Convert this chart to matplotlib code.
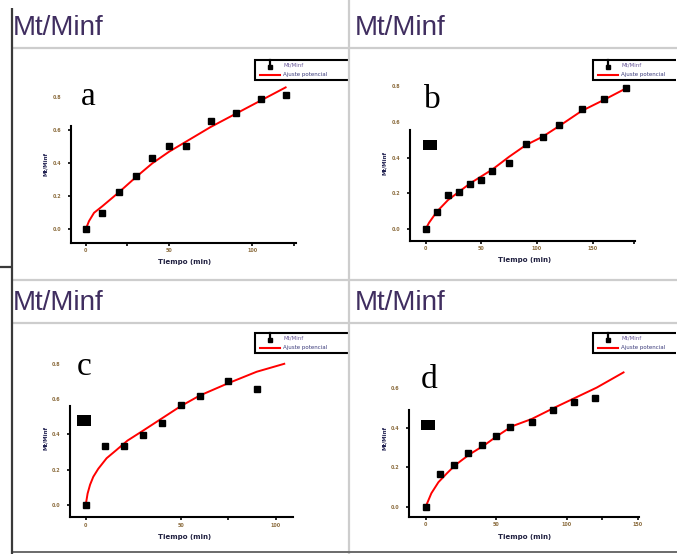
import matplotlib
matplotlib.use("Agg")
import matplotlib.pyplot as plt
from matplotlib.patches import Rectangle
from matplotlib.lines import Line2D

# ---------------- data ----------------
time_a = [0, 10, 20, 30, 40, 50, 60, 75, 90, 105, 120]
mt_a = [0, 0.10, 0.225, 0.325, 0.435, 0.505, 0.505, 0.655, 0.705, 0.79, 0.815]
fit_t_a = [0, 2, 5, 10, 20, 30, 40, 50, 60, 75, 90, 105, 120]
fit_a = [0, 0.05, 0.10, 0.14, 0.225, 0.315, 0.40, 0.47, 0.53, 0.62, 0.70, 0.78, 0.86]

time_b = [0, 10, 20, 30, 40, 50, 60, 75, 90, 105, 120, 140, 160, 180]
mt_b = [0, 0.095, 0.19, 0.205, 0.25, 0.275, 0.325, 0.37, 0.475, 0.515, 0.585, 0.67, 0.73, 0.79]
fit_t_b = [0, 3, 10, 20, 30, 40, 50, 60, 75, 90, 105, 120, 140, 160, 180]
fit_b = [0, 0.035, 0.097, 0.162, 0.209, 0.256, 0.295, 0.334, 0.405, 0.47, 0.517, 0.577, 0.661, 0.723, 0.788]

time_c = [0, 10, 20, 30, 40, 50, 60, 75, 90]
mt_c = [0, 0.335, 0.335, 0.395, 0.465, 0.565, 0.62, 0.70, 0.66]
fit_t_c = [0, 1, 2.3, 4, 6.6, 11, 16, 22, 30, 40, 50, 60, 75, 90, 104.5]
fit_c = [0, 0.065, 0.115, 0.16, 0.205, 0.265, 0.31, 0.365, 0.42, 0.49, 0.56, 0.62, 0.69, 0.755, 0.80]

time_d = [0, 10, 20, 30, 40, 50, 60, 75, 90, 105, 120]
mt_d = [0, 0.165, 0.21, 0.27, 0.31, 0.36, 0.405, 0.43, 0.49, 0.53, 0.55]
fit_t_d = [0, 4, 9, 15, 21, 31, 41, 51, 61, 75, 91, 106, 121, 140]
fit_d = [0, 0.068, 0.124, 0.169, 0.211, 0.265, 0.309, 0.36, 0.407, 0.444, 0.501, 0.552, 0.603, 0.68]

panel_letters = ["a", "b", "c", "d"]
header_text = "Mt/Minf"
x_label = "Tiempo (min)"
y_label = "Mt/Minf"
legend_labels = ["Mt/Minf", "Ajuste potencial"]
y_ticks = [0.0, 0.2, 0.4, 0.6, 0.8]
x_ticks_a = [0, 50, 100]
x_ticks_b = [0, 50, 100, 150]
x_ticks_c = [0, 50, 100]
x_ticks_d = [0, 50, 100, 150]

# ---------------- figure ----------------
W, H = 677, 554
fig = plt.figure(figsize=(W / 100, H / 100), dpi=100)
fig.patch.set_facecolor("white")

ov = fig.add_axes([0, 0, 1, 1])
ov.set_xlim(0, W)
ov.set_ylim(H, 0)
ov.axis("off")

LIGHT = "#cdcdcd"
DARK = "#3a3a3a"
# table lines
for y in (48, 280, 323):
    ov.plot([12, W], [y, y], color=LIGHT, lw=1.6, solid_capstyle="butt")
ov.plot([349, 349], [0, H], color=LIGHT, lw=1.6, solid_capstyle="butt")
ov.plot([12, W], [552, 552], color="#6a6a6a", lw=1.4, solid_capstyle="butt")
ov.plot([12, 12], [8, H], color=DARK, lw=1.6, solid_capstyle="butt")
ov.plot([0, 12], [267, 267], color=DARK, lw=1.6, solid_capstyle="butt")

# headers
for (hx, hy) in [(13, 35), (355, 35), (13, 310), (355, 310)]:
    ov.text(hx, hy, header_text, fontsize=20, family="Liberation Sans",
            color="#402e60", ha="left", va="baseline")

cells = [(12, 48, 349, 280), (349, 48, W, 280), (12, 323, 349, 552), (349, 323, W, 552)]
legend_pos = [(255, 60), (593, 60), (255, 333), (593, 333)]

for (cx0, cy0, cx1, cy1), (lx, ly) in zip(cells, legend_pos):
    clip = Rectangle((cx0, cy0), cx1 - cx0 - 1, cy1 - cy0, transform=ov.transData,
                     fill=False, visible=False)
    ov.add_patch(clip)
    box = Rectangle((lx, ly), 140, 20, facecolor="white", edgecolor="black", lw=1.5)
    ov.add_patch(box)
    box.set_clip_path(clip)
    l1 = Line2D([lx + 15, lx + 15], [ly, ly + 6], color="black", lw=1.6)
    ov.add_line(l1)
    l2 = Line2D([lx + 15], [ly + 7], marker="s", ms=3.5, color="black", ls="none")
    ov.add_line(l2)
    l3 = Line2D([lx + 5, lx + 25], [ly + 14.5, ly + 14.5], color="red", lw=1.5)
    ov.add_line(l3)
    t1 = ov.text(lx + 28, ly + 5, legend_labels[0], fontsize=4, color="#6a5a9a",
                 va="center", ha="left", clip_on=True)
    t2 = ov.text(lx + 28, ly + 14.5, legend_labels[1], fontsize=4, color="#3a3a7a",
                 va="center", ha="left", clip_on=True)
    for art in (l1, l2, l3, t1, t2):
        art.set_clip_path(clip)

# letters
for letter, (tx, ty) in zip(panel_letters, [(81, 105), (424, 108), (77, 375), (421, 388)]):
    ov.text(tx, ty, letter, fontsize=24, family="Liberation Serif", color="black",
            ha="left", va="baseline")

# black blocks
for (bx0, by0, bx1, by1) in [(423, 140, 437, 150), (77, 415, 91, 426), (421, 420, 435, 430)]:
    ov.add_patch(Rectangle((bx0, by0), bx1 - bx0, by1 - by0, facecolor="black", edgecolor="none"))

# ---------------- plot panels ----------------
panels = [
    dict(t=time_a, m=mt_a, ft=fit_t_a, f=fit_a, xt=x_ticks_a, xminor=[25, 125],
         x0=85.7, xppu=1.666, y0=229.3, yppu=165.0, left=71, right=295.5, bottom=242.5, top=80,
         spine_top=126, marked=4, ylab=(45, 164), xlab=(185, 262)),
    dict(t=time_b, m=mt_b, ft=fit_t_b, f=fit_b, xt=x_ticks_b, xminor=[187.5],
         x0=425.7, xppu=1.113, y0=229.0, yppu=178.5, left=410, right=635, bottom=240.7, top=76,
         spine_top=130, marked=3, ylab=(385, 163), xlab=(525, 260)),
    dict(t=time_c, m=mt_c, ft=fit_t_c, f=fit_c, xt=x_ticks_c, xminor=[75],
         x0=85.7, xppu=1.9, y0=505.0, yppu=176.5, left=70, right=293, bottom=517.3, top=355,
         spine_top=405.7, marked=3, ylab=(45, 438), xlab=(185, 537)),
    dict(t=time_d, m=mt_d, ft=fit_t_d, f=fit_d, xt=x_ticks_d, xminor=[125],
         x0=425.7, xppu=1.413, y0=506.7, yppu=197.5, left=409, right=639, bottom=516.7, top=355,
         spine_top=410, marked=3, ylab=(385, 438), xlab=(525, 537)),
]

TICKCOL = "#8c6d3f"
for p in panels:
    L, R, B, T = p["left"], p["right"], p["bottom"], p["top"]
    ax = fig.add_axes([L / W, 1 - B / H, (R - L) / W, (B - T) / H])
    ax.set_facecolor("none")
    ax.set_xlim((L - p["x0"]) / p["xppu"], (R - p["x0"]) / p["xppu"])
    ax.set_ylim((p["y0"] - B) / p["yppu"], (p["y0"] - T) / p["yppu"])
    ax.plot(p["ft"], p["f"], color="red", lw=1.4, clip_on=False, zorder=3)
    ax.plot(p["t"], p["m"], ls="none", marker="s", ms=4.2, color="black", clip_on=False, zorder=4)

    for s in ("top", "right"):
        ax.spines[s].set_visible(False)
    for s in ("left", "bottom"):
        ax.spines[s].set_linewidth(1.5)
    ylo = ax.get_ylim()[0]
    ax.spines["left"].set_bounds(ylo, (p["y0"] - p["spine_top"]) / p["yppu"])

    yt = [v for v in y_ticks if v <= ax.get_ylim()[1]]
    ax.set_yticks(yt)
    ax.set_yticklabels([f"{v:.1f}" for v in yt])
    ax.set_xticks(p["xt"])
    ax.set_xticklabels([str(v) for v in p["xt"]])
    ax.set_xticks(p["xminor"], minor=True)
    ax.tick_params(axis="both", which="major", direction="out", length=2.5, width=1.2,
                   labelsize=3.5, labelcolor=TICKCOL, color="black")
    ax.tick_params(axis="y", pad=4.5)
    ax.tick_params(axis="x", pad=1.5)
    ax.tick_params(axis="x", which="minor", direction="out", length=2.5, width=1.2)
    for lab in ax.get_xticklabels() + ax.get_yticklabels():
        lab.set_fontweight("bold")
    for i, tk in enumerate(ax.yaxis.get_major_ticks()):
        if i >= p["marked"]:
            tk.tick1line.set_visible(False)

    ax.set_xlabel(x_label, fontsize=5, fontweight="bold", color="#202040")
    ax.xaxis.label.set_va("center")
    ax.xaxis.set_label_coords((p["xlab"][0] - L) / (R - L), (B - p["xlab"][1]) / (B - T))
    ax.set_ylabel(y_label, fontsize=4, fontweight="bold", color="#202050")
    ax.yaxis.label.set_va("center")
    ax.yaxis.set_label_coords((p["ylab"][0] - L) / (R - L), (B - p["ylab"][1]) / (B - T))

fig.savefig("out.png", dpi=100, facecolor="white")
